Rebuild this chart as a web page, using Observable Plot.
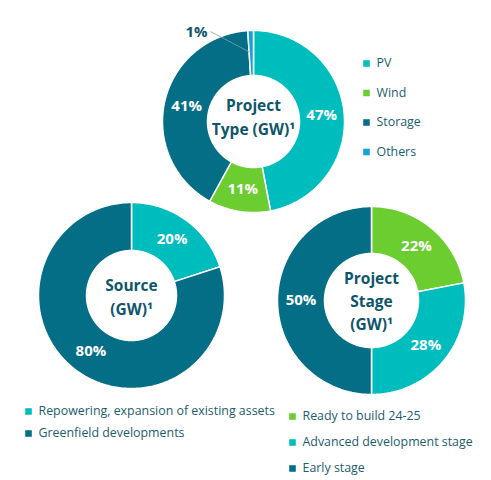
<!DOCTYPE html>
<html>
<head>
<meta charset="utf-8">
<script src="https://cdn.jsdelivr.net/npm/d3@7"></script>
<script src="https://cdn.jsdelivr.net/npm/@observablehq/plot@0.6"></script>
<style>
  html, body { margin: 0; padding: 0; background: #fff; }
  #chart { width: 491px; height: 480px; }
</style>
</head>
<body>
<div id="chart"></div>
<script>
// ---- data ----
const typeLabels = ["PV", "Wind", "Storage", "Others"];
const typeValues = [47, 11, 41, 1];
const sourceLabels = ["Repowering, expansion of existing assets", "Greenfield developments"];
const sourceValues = [20, 80];
const stageLabels = ["Ready to build 24-25", "Advanced development stage", "Early stage"];
const stageValues = [22, 28, 50];
const titles = ["Project\nType (GW)¹", "Source\n(GW)¹", "Project\nStage\n(GW)¹"];

// ---- styles ----
const TEAL = "#00BDBD", GREEN = "#6BCD30", DARK = "#036E86", BLUE = "#14A2D3";
const typeColors = [TEAL, GREEN, DARK, BLUE];
const sourceColors = [TEAL, DARK];
const stageColors = [GREEN, TEAL, DARK];
const TITLE_COLOR = "#0E5569";
const LEGEND_COLOR = "#1C5D6D";

// ---- layout ----
const donuts = [
  {key: "type", labels: typeLabels, values: typeValues, colors: typeColors, cx: 253, cy: 121, r0: 46, r1: 91, title: titles[0], titleY: 115},
  {key: "source", labels: sourceLabels, values: sourceValues, colors: sourceColors, cx: 131, cy: 295, r0: 45, r1: 93, title: titles[1], titleY: 295},
  {key: "stage", labels: stageLabels, values: stageValues, colors: stageColors, cx: 371, cy: 300, r0: 47, r1: 94, title: titles[2], titleY: 299}
];

const slicePts = [];
const pctLabels = [];
const leaders = [];
donuts.forEach(dn => {
  const total = d3.sum(dn.values);
  let acc = 0;
  dn.values.forEach((v, i) => {
    const a0 = acc / total * 2 * Math.PI;
    acc += v;
    const a1 = acc / total * 2 * Math.PI;
    const id = dn.key + i;
    const n = Math.max(2, Math.ceil((a1 - a0) / (Math.PI / 180)));
    for (let k = 0; k <= n; k++) {
      const a = a0 + (a1 - a0) * k / n;
      slicePts.push({id, color: dn.colors[i], x: dn.cx + dn.r1 * Math.sin(a), y: dn.cy - dn.r1 * Math.cos(a)});
    }
    for (let k = n; k >= 0; k--) {
      const a = a0 + (a1 - a0) * k / n;
      slicePts.push({id, color: dn.colors[i], x: dn.cx + dn.r0 * Math.sin(a), y: dn.cy - dn.r0 * Math.cos(a)});
    }
    const am = (a0 + a1) / 2, rm = (dn.r0 + dn.r1) / 2;
    const px = dn.cx + rm * Math.sin(am), py = dn.cy - rm * Math.cos(am);
    if (v / total < 0.05) {
      const lx = dn.cx - 43, ly = dn.cy - 90;
      leaders.push({x1: px, y1: py, x2: lx, y2: ly});
      pctLabels.push({x: lx - 14, y: ly + 1, text: v + "%", outside: true});
    } else {
      pctLabels.push({x: px, y: py, text: v + "%", outside: false});
    }
  });
});

// legends
const legendItems = [];
typeLabels.forEach((l, i) => legendItems.push({x: 366, y: 63 + i * 29.5, label: l, color: typeColors[i]}));
sourceLabels.forEach((l, i) => legendItems.push({x: 28, y: 411 + i * 22, label: l, color: sourceColors[i]}));
stageLabels.forEach((l, i) => legendItems.push({x: 292, y: 416 + i * 26, label: l, color: stageColors[i]}));

const chart = Plot.plot({
  width: 491,
  height: 480,
  margin: 0,
  x: {domain: [0, 491], range: [0, 491], axis: null},
  y: {domain: [0, 480], range: [0, 480], axis: null},
  color: {type: "identity"},
  style: {fontFamily: "'Open Sans', sans-serif", background: "#fff"},
  marks: [
    Plot.line(slicePts, {x: "x", y: "y", z: "id", fill: "color", stroke: "#fff", strokeWidth: 1.5, curve: "linear-closed", strokeLinejoin: "miter"}),
    Plot.link(leaders, {x1: "x1", y1: "y1", x2: "x2", y2: "y2", stroke: "#8a9ea5", strokeWidth: 0.8}),
    Plot.text(pctLabels.filter(d => !d.outside), {x: "x", y: "y", text: "text", fill: "#fff", fontSize: 15, fontWeight: "bold"}),
    Plot.text(pctLabels.filter(d => d.outside), {x: "x", y: "y", text: "text", fill: TITLE_COLOR, fontSize: 15, fontWeight: "bold"}),
    Plot.text(donuts, {x: "cx", y: "titleY", text: "title", fill: TITLE_COLOR, fontSize: 15.5, fontWeight: "bold", lineAnchor: "middle", lineHeight: 1.5, letterSpacing: "-0.3px"}),
    Plot.dot(legendItems, {x: "x", y: "y", symbol: "square", r: 3.7, fill: "color", stroke: "none"}),
    Plot.text(legendItems, {x: d => d.x + 10, y: "y", text: "label", fill: LEGEND_COLOR, fontSize: 12.4, textAnchor: "start"})
  ]
});
document.getElementById("chart").appendChild(chart);
</script>
</body>
</html>
